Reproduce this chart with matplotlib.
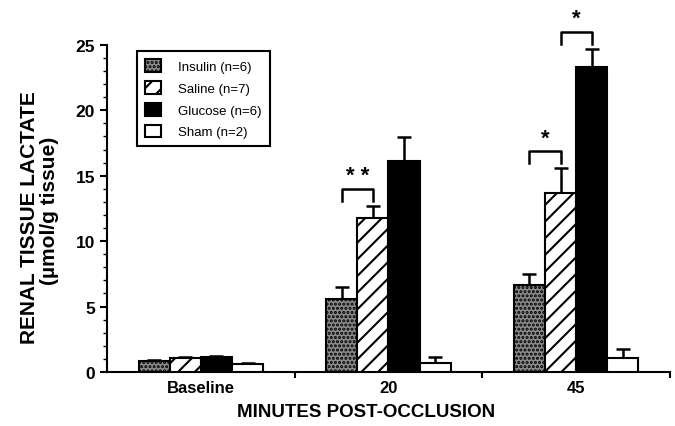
import numpy as np
import matplotlib.pyplot as plt

plt.rcParams['font.family'] = ['Liberation Sans', 'DejaVu Sans']
plt.rcParams['hatch.linewidth'] = 1.5

groups = ["Baseline", "20", "45"]
series = ["Insulin (n=6)", "Saline (n=7)", "Glucose (n=6)", "Sham (n=2)"]
insulin = [0.85, 5.6, 6.65]
saline = [1.05, 11.8, 13.7]
glucose = [1.15, 16.1, 23.3]
sham = [0.6, 0.7, 1.05]
insulin_err = [0.1, 0.9, 0.85]
saline_err = [0.1, 0.85, 1.9]
glucose_err = [0.1, 1.85, 1.4]
sham_err = [0.1, 0.45, 0.7]

values = [insulin, saline, glucose, sham]
errors = [insulin_err, saline_err, glucose_err, sham_err]
faces = ['#8c8c8c', 'white', 'black', 'white']
hatches = ['....', '//', None, None]

fig = plt.figure(figsize=(6.75, 4.27), dpi=100)
ax = fig.add_axes([0.1585, 0.1265, 0.834, 0.766])

x = np.arange(len(groups))
w = 0.166
for i, (vals, errs) in enumerate(zip(values, errors)):
    pos = x + (i - 1.5) * w
    ax.bar(pos, vals, w, color=faces[i], edgecolor='black', linewidth=1.5,
           hatch=hatches[i], label=series[i], zorder=3)
    ax.errorbar(pos, vals, yerr=[np.zeros(len(vals)), errs], fmt='none',
                ecolor='black', elinewidth=1.8, capsize=5, capthick=1.8, zorder=2)

# significance brackets
def bracket(x0, x1, y, txt):
    ax.plot([x0, x0, x1, x1], [y - 0.9, y, y, y - 0.9], color='black', lw=1.8,
            clip_on=False)
    ax.text((x0 + x1) / 2, y + 0.2, txt, ha='center', va='bottom',
            fontsize=16, fontweight='bold', clip_on=False)

bracket(x[1] - 1.5 * w, x[1] - 0.5 * w, 14.0, "* *")
bracket(x[2] - 1.5 * w, x[2] - 0.5 * w, 16.9, "*")
bracket(x[2] - 0.5 * w, x[2] + 0.5 * w, 26.0, "*")

ax.set_xlim(-0.5, 2.5)
ax.set_ylim(0, 25)
ax.set_yticks([0, 5, 10, 15, 20, 25])
ax.set_yticks(np.arange(0, 26, 1), minor=True)
ax.set_xticks([0.5, 1.5, 2.5])
ax.set_xticklabels([])
ax.set_xticks(x, minor=True)
ax.set_xticklabels(groups, minor=True, fontsize=12, fontweight='bold')
ax.tick_params(axis='x', which='minor', length=0, pad=6)
ax.tick_params(axis='x', which='major', length=4, width=1.5)
ax.tick_params(axis='y', which='major', length=5, width=1.5, labelsize=12.5)
ax.tick_params(axis='y', which='minor', length=3, width=1)
for lab in ax.get_yticklabels():
    lab.set_fontweight('bold')

ax.spines['top'].set_visible(False)
ax.spines['right'].set_visible(False)
ax.spines['left'].set_linewidth(1.5)
ax.spines['bottom'].set_linewidth(1.5)

fig.text(366 / 675, 1 - 413 / 427, "MINUTES POST-OCCLUSION", ha='center',
         va='center', fontsize=13.5, fontweight='bold')
fig.text(0.043, 0.49, "RENAL TISSUE LACTATE", rotation=90, ha='center',
         va='center', fontsize=15, fontweight='bold')
fig.text(0.074, 0.505, "(\u00b5mol/g tissue)", rotation=90, ha='center',
         va='center', fontsize=15, fontweight='bold')

leg = ax.legend(loc='upper left', bbox_to_anchor=(0.042, 1.0), fontsize=9.5,
                handlelength=1.2, handleheight=1.1, handletextpad=1.3,
                labelspacing=0.6, fancybox=False, edgecolor='black',
                framealpha=1, borderpad=0.6)
leg.get_frame().set_linewidth(1.5)

fig.savefig("out.png", dpi=100)
